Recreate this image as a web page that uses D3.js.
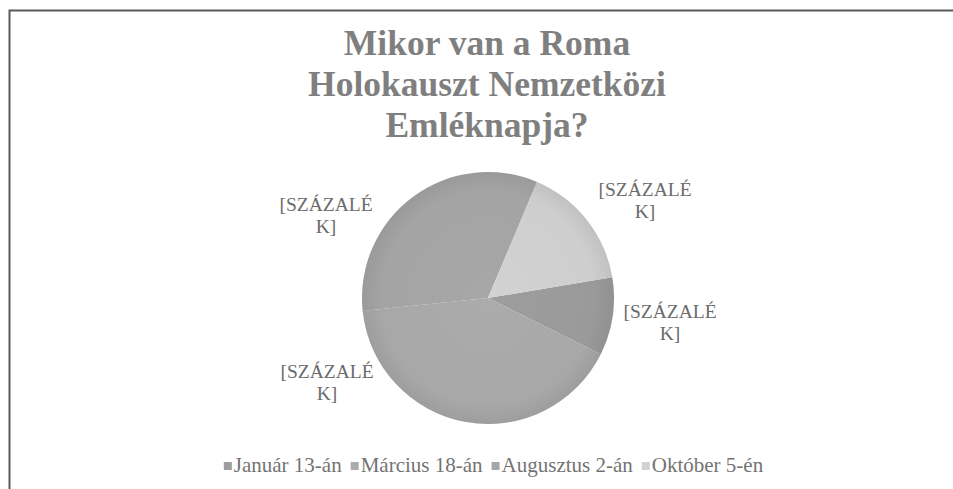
<!DOCTYPE html>
<html>
<head>
<meta charset="utf-8">
<script src="https://cdn.jsdelivr.net/npm/d3@7"></script>
<style>
  html, body { margin: 0; padding: 0; background: #ffffff; }
  svg { display: block; }
</style>
</head>
<body>
<svg id="chart" width="953" height="489"></svg>
<script>
// ---- data ----
const titleLines = ["Mikor van a Roma", "Holokauszt Nemzetközi", "Emléknapja?"];
const categories = ["Január 13-án", "Március 18-án", "Augusztus 2-án", "Október 5-én"];
const values = [10, 41, 33, 16];
const labelLines = ["[SZÁZALÉ", "K]"];
const sliceColors = ["#9d9d9d", "#ababab", "#a7a7a7", "#d2d2d2"];

// ---- layout ----
const W = 953, H = 489;
const cx = 488, cy = 298, R = 126;
const startDeg = 80.5;
// label anchors relative to pie centre (layout only)
const labelPos = [[182, 19.7], [-161, 79.7], [-162, -87], [157, -102]];
const serif = "'Liberation Serif', 'Times New Roman', Times, serif";

const svg = d3.select("#chart");
svg.append("rect").attr("width", W).attr("height", H).attr("fill", "#fff");

// frame (cropped chart area)
svg.append("path")
  .attr("d", `M9.5,${H} L9.5,10.5 L${W},10.5`)
  .attr("fill", "none").attr("stroke", "#5a5a5a").attr("stroke-width", 2);

// title
svg.append("g").selectAll("text").data(titleLines).join("text")
  .attr("x", cx - 1)
  .attr("y", (d, i) => 55 + i * 41)
  .attr("text-anchor", "middle")
  .attr("font-family", serif)
  .attr("font-weight", "bold")
  .attr("font-size", 35.5)
  .attr("fill", "#7f7f7f")
  .text(d => d);

// pie
const defs = svg.append("defs");
const rg = defs.append("radialGradient").attr("id", "shade")
  .attr("cx", "50%").attr("cy", "50%").attr("r", "50%");
rg.append("stop").attr("offset", "0%").attr("stop-color", "#000").attr("stop-opacity", 0);
rg.append("stop").attr("offset", "85%").attr("stop-color", "#000").attr("stop-opacity", 0.02);
rg.append("stop").attr("offset", "100%").attr("stop-color", "#000").attr("stop-opacity", 0.08);

const pie = d3.pie().sort(null).value(d => d)
  .startAngle(startDeg * Math.PI / 180)
  .endAngle(startDeg * Math.PI / 180 + 2 * Math.PI);
const arc = d3.arc().innerRadius(0).outerRadius(R);
const color = d3.scaleOrdinal().domain(categories).range(sliceColors);

const pg = svg.append("g").attr("transform", `translate(${cx},${cy})`);
const arcs = pie(values);
pg.selectAll("path.slice").data(arcs).join("path")
  .attr("class", "slice")
  .attr("d", arc)
  .attr("fill", (d, i) => color(categories[i]))
  .attr("stroke", "none");
pg.append("circle").attr("r", R).attr("fill", "url(#shade)");

// data labels
const lg = svg.append("g").attr("transform", `translate(${cx},${cy})`);
arcs.forEach((a, i) => {
  const t = lg.append("text")
    .attr("font-family", serif)
    .attr("font-size", 19.5)
    .attr("fill", "#6b6b6b")
    .attr("text-anchor", "middle");
  labelLines.forEach((ln, j) => {
    t.append("tspan")
      .attr("x", labelPos[i][0])
      .attr("y", labelPos[i][1] + j * 22)
      .text(ln);
  });
});

// legend
const legend = svg.append("g");
const fs = 21, sq = 8, gapSq = 2, gapItem = 9;
const items = legend.selectAll("g").data(categories).join("g");
items.append("rect")
  .attr("width", sq).attr("height", sq)
  .attr("y", 462)
  .attr("fill", d => color(d));
items.append("text")
  .attr("y", 472)
  .attr("font-family", serif)
  .attr("font-size", fs)
  .attr("fill", "#737373")
  .text(d => d);
let widths = [];
items.select("text").each(function() { widths.push(this.getComputedTextLength()); });
const total = d3.sum(widths) + categories.length * (sq + gapSq) + (categories.length - 1) * gapItem;
let x0 = 493.5 - total / 2;
items.each(function(d, i) {
  const g = d3.select(this);
  g.select("rect").attr("x", x0);
  const tx = x0 + sq + gapSq;
  g.select("text").attr("x", tx);
  x0 = tx + widths[i] + gapItem;
});
</script>
</body>
</html>
